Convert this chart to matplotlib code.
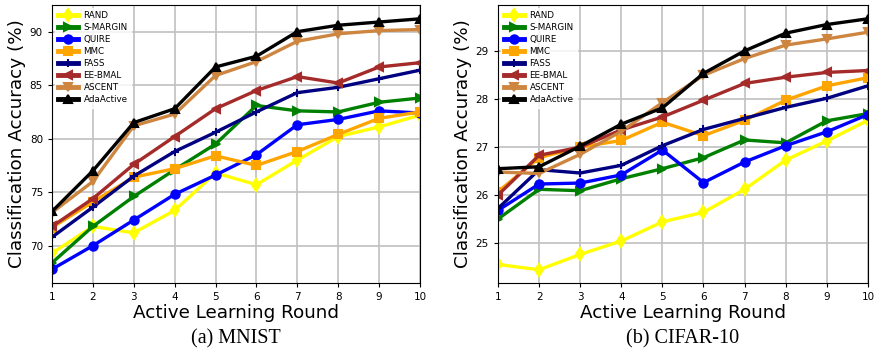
import matplotlib
matplotlib.use("Agg")
import matplotlib.pyplot as plt

rounds = [1, 2, 3, 4, 5, 6, 7, 8, 9, 10]
methods = ["RAND", "S-MARGIN", "QUIRE", "MMC", "FASS", "EE-BMAL", "ASCENT", "AdaActive"]

# MNIST
mnist_rand = [69.3, 71.8, 71.2, 73.3, 76.8, 75.7, 78.0, 80.2, 81.1, 82.2]
mnist_smargin = [68.4, 71.8, 74.6, 77.1, 79.5, 83.1, 82.6, 82.5, 83.4, 83.8]
mnist_quire = [67.8, 70.0, 72.4, 74.8, 76.6, 78.5, 81.3, 81.8, 82.6, 82.4]
mnist_mmc = [71.7, 74.1, 76.4, 77.2, 78.4, 77.5, 78.8, 80.4, 81.9, 82.5]
mnist_fass = [70.8, 73.6, 76.5, 78.8, 80.6, 82.5, 84.3, 84.8, 85.6, 86.4]
mnist_eebmal = [71.8, 74.4, 77.6, 80.2, 82.8, 84.5, 85.8, 85.2, 86.7, 87.1]
mnist_ascent = [73.1, 76.0, 81.2, 82.3, 85.9, 87.2, 89.1, 89.8, 90.1, 90.2]
mnist_adaactive = [73.2, 77.0, 81.5, 82.8, 86.7, 87.7, 90.0, 90.6, 90.9, 91.2]

# CIFAR-10
cifar_rand = [24.55, 24.44, 24.76, 25.04, 25.44, 25.64, 26.12, 26.73, 27.13, 27.56]
cifar_smargin = [25.50, 26.12, 26.09, 26.34, 26.55, 26.78, 27.15, 27.09, 27.55, 27.70]
cifar_quire = [25.68, 26.23, 26.25, 26.42, 26.94, 26.26, 26.69, 27.03, 27.32, 27.68]
cifar_mmc = [26.07, 26.78, 27.00, 27.14, 27.52, 27.24, 27.56, 27.98, 28.28, 28.45]
cifar_fass = [25.72, 26.53, 26.46, 26.62, 27.03, 27.37, 27.60, 27.83, 28.02, 28.28]
cifar_eebmal = [26.00, 26.83, 27.00, 27.36, 27.63, 27.98, 28.33, 28.46, 28.56, 28.60]
cifar_ascent = [26.48, 26.45, 26.85, 27.33, 27.93, 28.50, 28.85, 29.13, 29.26, 29.40]
cifar_adaactive = [26.55, 26.59, 27.02, 27.48, 27.82, 28.54, 29.01, 29.38, 29.56, 29.68]

colors = ["yellow", "green", "blue", "orange", "navy", "brown", "peru", "black"]
markers = ["d", ">", "o", "s", "+", "<", "v", "^"]

mnist = [mnist_rand, mnist_smargin, mnist_quire, mnist_mmc, mnist_fass,
         mnist_eebmal, mnist_ascent, mnist_adaactive]
cifar = [cifar_rand, cifar_smargin, cifar_quire, cifar_mmc, cifar_fass,
         cifar_eebmal, cifar_ascent, cifar_adaactive]

fig = plt.figure(figsize=(8.74, 3.5), dpi=100)
ax1 = fig.add_axes([0.0595, 0.191, 0.421, 0.795])
ax2 = fig.add_axes([0.5698, 0.191, 0.4232, 0.795])


def draw(ax, data, ylim, yticks, caption):
    for vals, name, c, m in zip(data, methods, colors, markers):
        ax.plot(rounds, vals, color=c, marker=m, label=name, linewidth=2.4,
                markersize=6, markeredgewidth=1.5)
    ax.set_xlim(1, 10)
    ax.set_ylim(*ylim)
    ax.set_xticks(rounds)
    ax.set_yticks(yticks)
    ax.grid(True, color="#c0c0c0", linewidth=1.2)
    ax.tick_params(labelsize=7.5, length=3)
    ax.set_xlabel("Active Learning Round", fontsize=13.2, labelpad=1)
    ax.set_ylabel("Classification Accuracy (%)", fontsize=13.2, labelpad=3)
    leg = ax.legend(loc="upper left", fontsize=6.3, handlelength=2.3,
                    labelspacing=0.35, handletextpad=0.6, framealpha=0.8,
                    edgecolor="white", borderaxespad=0.3)
    for line in leg.get_lines():
        line.set_linewidth(3.5)
    ax.text(0.5, -0.165, caption, transform=ax.transAxes, ha="center", va="top",
            fontsize=14.5, family="Liberation Serif")


draw(ax1, mnist, (66.5, 92.5), [70, 75, 80, 85, 90], "(a) MNIST")
draw(ax2, cifar, (24.16, 29.97), [25, 26, 27, 28, 29], "(b) CIFAR-10")

fig.savefig("out.png", dpi=100)
